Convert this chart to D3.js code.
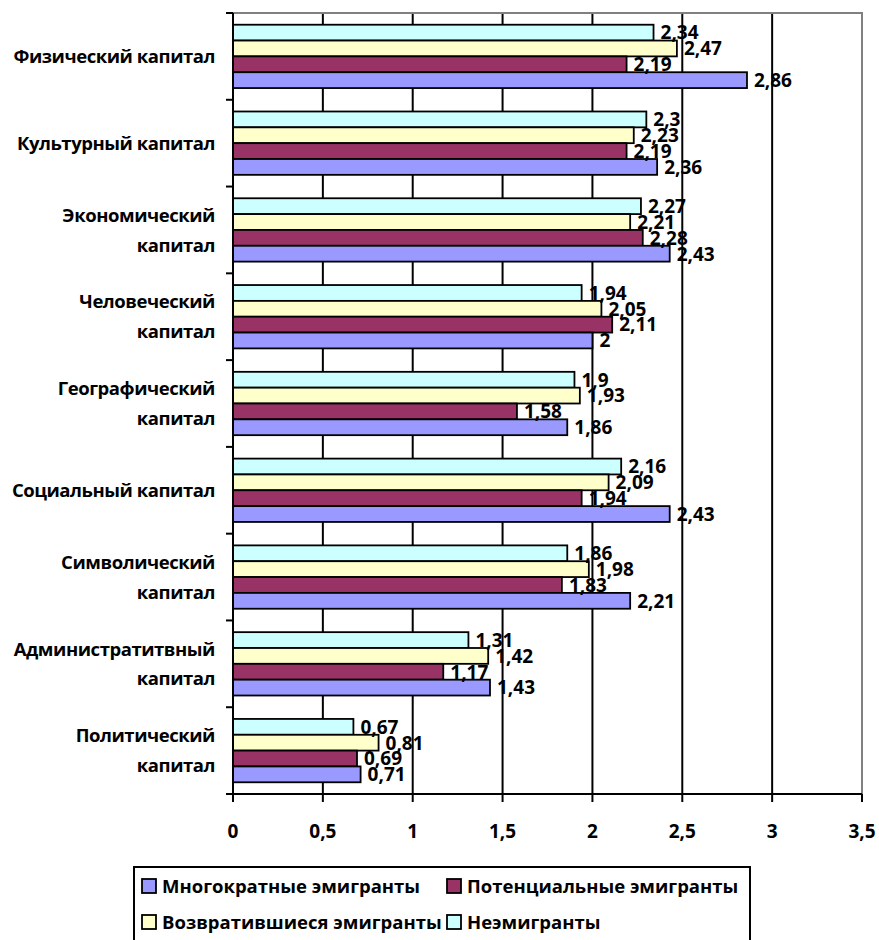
<!DOCTYPE html>
<html>
<head>
<meta charset="utf-8">
<script src="https://cdn.jsdelivr.net/npm/d3@7"></script>
<style>
  html, body { margin: 0; padding: 0; background: #fff; }
  svg { display: block; font-family: "Open Sans", "DejaVu Sans", sans-serif; font-weight: bold; }
</style>
</head>
<body>
<div id="chart"></div>
<script>
// categories, top to bottom
const categories = [
  'Физический капитал',
  'Культурный капитал',
  'Экономический\nкапитал',
  'Человеческий\nкапитал',
  'Географический\nкапитал',
  'Социальный капитал',
  'Символический\nкапитал',
  'Администратитвный\nкапитал',
  'Политический\nкапитал'
]

const seriesNames = ['Многократные эмигранты', 'Потенциальные эмигранты', 'Возвратившиеся эмигранты', 'Неэмигранты']
const seriesColors = ['#9999FF', '#993366', '#FFFFCC', '#CCFFFF']

const multiple = [2.86, 2.36, 2.43, 2, 1.86, 2.43, 2.21, 1.43, 0.71]
const potential = [2.19, 2.19, 2.28, 2.11, 1.58, 1.94, 1.83, 1.17, 0.69]
const returned = [2.47, 2.23, 2.21, 2.05, 1.93, 2.09, 1.98, 1.42, 0.81]
const nonEmigrants = [2.34, 2.3, 2.27, 1.94, 1.9, 2.16, 1.86, 1.31, 0.67]

const xTicks = [0, 0.5, 1, 1.5, 2, 2.5, 3, 3.5]

const width = 879
const height = 940
const margin = { top: 13, right: 17, bottom: 146, left: 233 }

const svg = d3.select('#chart')
  .append('svg')
  .attr('width', width)
  .attr('height', height)

const values = [multiple, potential, returned, nonEmigrants]
// bars drawn top to bottom within a group: last series first
const stackOrder = [3, 2, 1, 0]

const x = d3.scaleLinear()
  .domain([0, 3.5])
  .range([margin.left, width - margin.right])

const y = d3.scaleBand()
  .domain(d3.range(categories.length))
  .range([margin.top, height - margin.bottom])
  .paddingInner(0.27)
  .paddingOuter(0.135)

const ySub = d3.scaleBand()
  .domain(stackOrder)
  .range([0, y.bandwidth()])

const plotTop = margin.top
const plotBottom = height - margin.bottom
const step = y.step()

// gridlines
svg.append('g')
  .selectAll('line')
  .data(xTicks.slice(1, -1))
  .join('line')
  .attr('x1', d => x(d))
  .attr('x2', d => x(d))
  .attr('y1', plotTop)
  .attr('y2', plotBottom)
  .attr('stroke', '#000')
  .attr('stroke-width', 2)

// plot frame (top / right, grey)
svg.append('path')
  .attr('d', `M${x(0)},${plotTop}H${x(3.5)}V${plotBottom}`)
  .attr('fill', 'none')
  .attr('stroke', '#808080')
  .attr('stroke-width', 2)

// bars
const groups = svg.append('g')
  .selectAll('g')
  .data(categories.map((c, i) => i))
  .join('g')
  .attr('transform', i => `translate(0,${y(i)})`)

groups.selectAll('rect')
  .data(i => stackOrder.map(s => ({ s, v: values[s][i] })))
  .join('rect')
  .attr('x', x(0))
  .attr('y', d => ySub(d.s))
  .attr('width', d => x(d.v) - x(0))
  .attr('height', ySub.bandwidth())
  .attr('fill', d => seriesColors[d.s])
  .attr('stroke', '#000')
  .attr('stroke-width', 1.8)

// value labels
groups.selectAll('text')
  .data(i => stackOrder.map(s => ({ s, v: values[s][i] })))
  .join('text')
  .attr('x', d => x(d.v) + 7)
  .attr('y', d => ySub(d.s) + ySub.bandwidth() / 2)
  .attr('dy', '0.36em')
  .attr('font-size', 19)
  .attr('fill', '#000')
  .text(d => String(d.v).replace('.', ','))

// y axis
svg.append('line')
  .attr('x1', x(0)).attr('x2', x(0))
  .attr('y1', plotTop).attr('y2', plotBottom)
  .attr('stroke', '#000').attr('stroke-width', 2)

svg.append('g')
  .selectAll('line')
  .data(d3.range(categories.length + 1))
  .join('line')
  .attr('x1', x(0) - 7)
  .attr('x2', x(0))
  .attr('y1', i => plotTop + i * step)
  .attr('y2', i => plotTop + i * step)
  .attr('stroke', '#000')
  .attr('stroke-width', 2)

const catLabels = svg.append('g')
  .selectAll('text')
  .data(categories)
  .join('text')
  .attr('text-anchor', 'end')
  .attr('font-size', 18.5)
  .attr('letter-spacing', -0.45)
  .attr('fill', '#000')
  .attr('transform', (d, i) => `translate(215,${plotTop + i * step + step / 2})`)

catLabels.each(function (d) {
  const lines = d.split('\n')
  const t = d3.select(this)
  lines.forEach((line, j) => {
    t.append('tspan')
      .attr('x', 0)
      .attr('y', (j - (lines.length - 1) / 2) * 30)
      .attr('dy', '0.36em')
      .text(line)
  })
})

// x axis
svg.append('line')
  .attr('x1', x(0)).attr('x2', x(3.5))
  .attr('y1', plotBottom).attr('y2', plotBottom)
  .attr('stroke', '#000').attr('stroke-width', 2)

svg.append('g')
  .selectAll('line')
  .data(xTicks)
  .join('line')
  .attr('x1', d => x(d)).attr('x2', d => x(d))
  .attr('y1', plotBottom).attr('y2', plotBottom + 8)
  .attr('stroke', '#000').attr('stroke-width', 2)

svg.append('g')
  .selectAll('text')
  .data(xTicks)
  .join('text')
  .attr('x', d => x(d))
  .attr('y', plotBottom + 37)
  .attr('dy', '0.36em')
  .attr('text-anchor', 'middle')
  .attr('font-size', 19)
  .text(d => String(d).replace('.', ','))

// legend
const legend = svg.append('g')

legend.append('rect')
  .attr('x', 134)
  .attr('y', 867)
  .attr('width', 616)
  .attr('height', 90)
  .attr('fill', '#fff')
  .attr('stroke', '#000')
  .attr('stroke-width', 2)

const legendPos = [[142, 886], [447, 886], [142, 922], [447, 922]]

const items = legend.selectAll('g.item')
  .data(seriesNames)
  .join('g')
  .attr('class', 'item')
  .attr('transform', (d, i) => `translate(${legendPos[i][0]},${legendPos[i][1]})`)

items.append('rect')
  .attr('x', 0)
  .attr('y', -7)
  .attr('width', 14)
  .attr('height', 14)
  .attr('fill', (d, i) => seriesColors[i])
  .attr('stroke', '#000')
  .attr('stroke-width', 1.8)

items.append('text')
  .attr('x', 20)
  .attr('dy', '0.36em')
  .attr('font-size', 18.5)
  .text(d => d)
</script>
</body>
</html>
